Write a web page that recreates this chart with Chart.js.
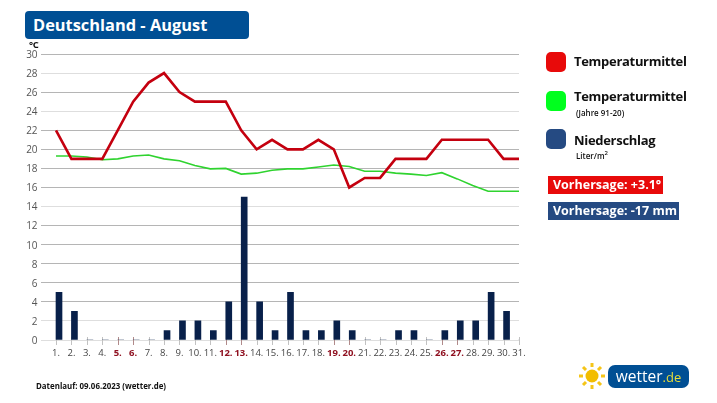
<!DOCTYPE html>
<html><head><meta charset="utf-8">
<script src="https://cdn.jsdelivr.net/npm/chart.js@4"></script>
<style>
html,body{margin:0;padding:0;background:#fff;width:717px;height:403px;overflow:hidden;font-family:"Open Sans",sans-serif}
#wrap{position:absolute;left:0;top:0;width:717px;height:403px}
canvas#c{position:absolute;left:0;top:0}
.t{position:absolute;white-space:nowrap;color:#111}
.sw{position:absolute;width:20px;height:20px;border-radius:5px;left:546px}
.leg{font-size:13px;font-weight:700;left:574px;line-height:18px;letter-spacing:-.3px}
.small{font-size:8px;font-weight:600}
.tag{position:absolute;white-space:nowrap;color:#fff;font-weight:700;font-size:12.5px;line-height:18px;height:18px;left:548px;padding-left:5px;box-sizing:border-box}
</style></head><body>
<div id="wrap">
<canvas id="c" width="717" height="403"></canvas>
<div class="t" style="left:25px;top:11px;width:224px;height:28px;background:#004f94;border-radius:4px;color:#fff;font-weight:700;font-size:16.4px;line-height:28px;padding-left:8px;box-sizing:border-box">Deutschland - August</div>
<div class="t" style="left:29px;top:39px;font-size:9.5px;font-weight:700;line-height:12px;letter-spacing:-.3px">°C</div>
<div class="sw" style="top:52px;background:#e80a0a"></div>
<div class="t leg" style="top:52px">Temperaturmittel</div>
<div class="sw" style="top:91px;background:#00ff1e"></div>
<div class="t leg" style="top:87px">Temperaturmittel</div>
<div class="t small" style="left:576px;top:107px">(Jahre 91-20)</div>
<div class="sw" style="top:129px;background:#254a82"></div>
<div class="t leg" style="top:131px">Niederschlag</div>
<div class="t small" style="left:576px;top:150px;font-weight:600">Liter/m<sup style="font-size:6px;line-height:0">2</sup></div>
<div class="tag" style="top:176px;width:115px;background:#e80a0a">Vorhersage: +3.1°</div>
<div class="tag" style="top:202px;width:131px;background:#254a82">Vorhersage: -17 mm</div>
<div class="t" style="left:36px;top:380px;font-size:7.9px;font-weight:700;line-height:12px">Datenlauf: 09.06.2023 (wetter.de)</div>
<svg style="position:absolute;left:578px;top:362px" width="28" height="28" viewBox="0 0 28 28">
<circle cx="14" cy="14" r="6.5" fill="#f2bd00"/>
<g stroke="#f5c518" stroke-width="3" stroke-linecap="butt">
<line x1="14" y1="1" x2="14" y2="5"/><line x1="14" y1="23" x2="14" y2="27"/>
<line x1="1" y1="14" x2="5" y2="14"/><line x1="23" y1="14" x2="27" y2="14"/>
<line x1="5" y1="5" x2="8" y2="8"/><line x1="20" y1="20" x2="23" y2="23"/>
<line x1="5" y1="23" x2="8" y2="20"/><line x1="20" y1="8" x2="23" y2="5"/>
</g></svg>
<div class="t" style="left:608px;top:365px;width:81px;height:23px;background:#004f94;border-radius:7px;color:#fff;font-size:15.5px;line-height:23px;text-align:center;font-family:'Open Sans',sans-serif">wetter<span style="color:#e5dc3a;font-size:13px">.de</span></div>
</div>
<script>
const days=[1,2,3,4,5,6,7,8,9,10,11,12,13,14,15,16,17,18,19,20,21,22,23,24,25,26,27,28,29,30,31];
const redDays=[5,6,12,13,19,20,26,27];
const tempMean=[22,19,19,19,22,25,27,28,26,25,25,25,22,20,21,20,20,21,20,16,17,17,19,19,19,21,21,21,21,19,19];
const tempClimate=[19.3,19.3,19.2,18.9,19.0,19.3,19.4,19.0,18.8,18.3,17.95,18.0,17.4,17.5,17.8,17.95,17.95,18.15,18.35,18.2,17.7,17.7,17.5,17.4,17.25,17.55,16.9,16.2,15.6,15.6,15.6];
const rain=[5,3,0,0,0,0,0,1,2,2,1,4,15,4,1,5,1,1,2,1,0,0,1,1,0,1,2,2,5,3,0];
const yTicks=[0,2,4,6,8,10,12,14,16,18,20,22,24,26,28,30];
const lightLines=[28,24,14,2,0];
const pts=a=>a.map((v,i)=>({x:days[i],y:v}));
const isRed=c=>!!c.tick&&redDays.includes(c.tick.value);
const dayTicks={id:'dayTicks',beforeDatasetsDraw(ch){
  const g=ch.ctx,sx=ch.scales.x,y0=Math.round(ch.scales.y.getPixelForValue(0));
  g.save();g.lineWidth=1;
  days.forEach(d=>{const x=Math.round(sx.getPixelForValue(d))+.5;
    g.strokeStyle=redDays.includes(d)?'#b08a8a':'#c2c2c2';
    g.beginPath();g.moveTo(x,y0-3);g.lineTo(x,y0+5);g.stroke();});
  g.restore();}};
new Chart(document.getElementById('c'),{
 type:'line',
 plugins:[dayTicks],
 data:{datasets:[
  {type:'line',data:pts(tempMean),borderColor:'#c4000f',borderWidth:2.6,pointRadius:0,tension:0,order:1,xAxisID:'x',yAxisID:'y',borderJoinStyle:'miter'},
  {type:'line',data:pts(tempClimate),borderColor:'#2fd32f',borderWidth:1.6,pointRadius:0,tension:0,order:2,xAxisID:'x',yAxisID:'y'},
  {type:'bar',data:pts(rain),backgroundColor:'#08204a',barThickness:6,order:3,xAxisID:'xb',yAxisID:'y'}
 ]},
 options:{responsive:false,animation:false,devicePixelRatio:1,
  layout:{padding:{left:0,top:54,right:198,bottom:0}},
  plugins:{legend:{display:false},tooltip:{enabled:false}},
  scales:{
   x:{type:'linear',min:0,max:31,offset:false,position:'bottom',
      afterBuildTicks(s){s.ticks=days.map(v=>({value:v}));},
      afterFit(s){s.height=403-340;},
      grid:{display:false,offset:false},
      border:{display:false},
      ticks:{autoSkip:false,maxRotation:0,padding:0,
        callback:v=>v+'.',
        color:c=>isRed(c)?'#8f1020':'#444',
        font:c=>({family:'"Open Sans",sans-serif',size:9.5,weight:isRed(c)?'700':'400'})}},
   xb:{type:'linear',min:0,max:31,bounds:'data',offset:false,display:false,grid:{offset:false}},
   y:{min:0,max:30,position:'left',
      afterBuildTicks(s){s.ticks=yTicks.map(v=>({value:v}));},
      afterFit(s){s.width=40.57;},
      grid:{color:c=>c.tick&&lightLines.includes(c.tick.value)?'#dedede':'#b5b5b5',lineWidth:1,drawTicks:false},
      border:{display:false},
      ticks:{padding:3,labelOffset:1,color:'#555',font:{family:'"Open Sans",sans-serif',size:10}}}
  }}
});
</script></body></html>
